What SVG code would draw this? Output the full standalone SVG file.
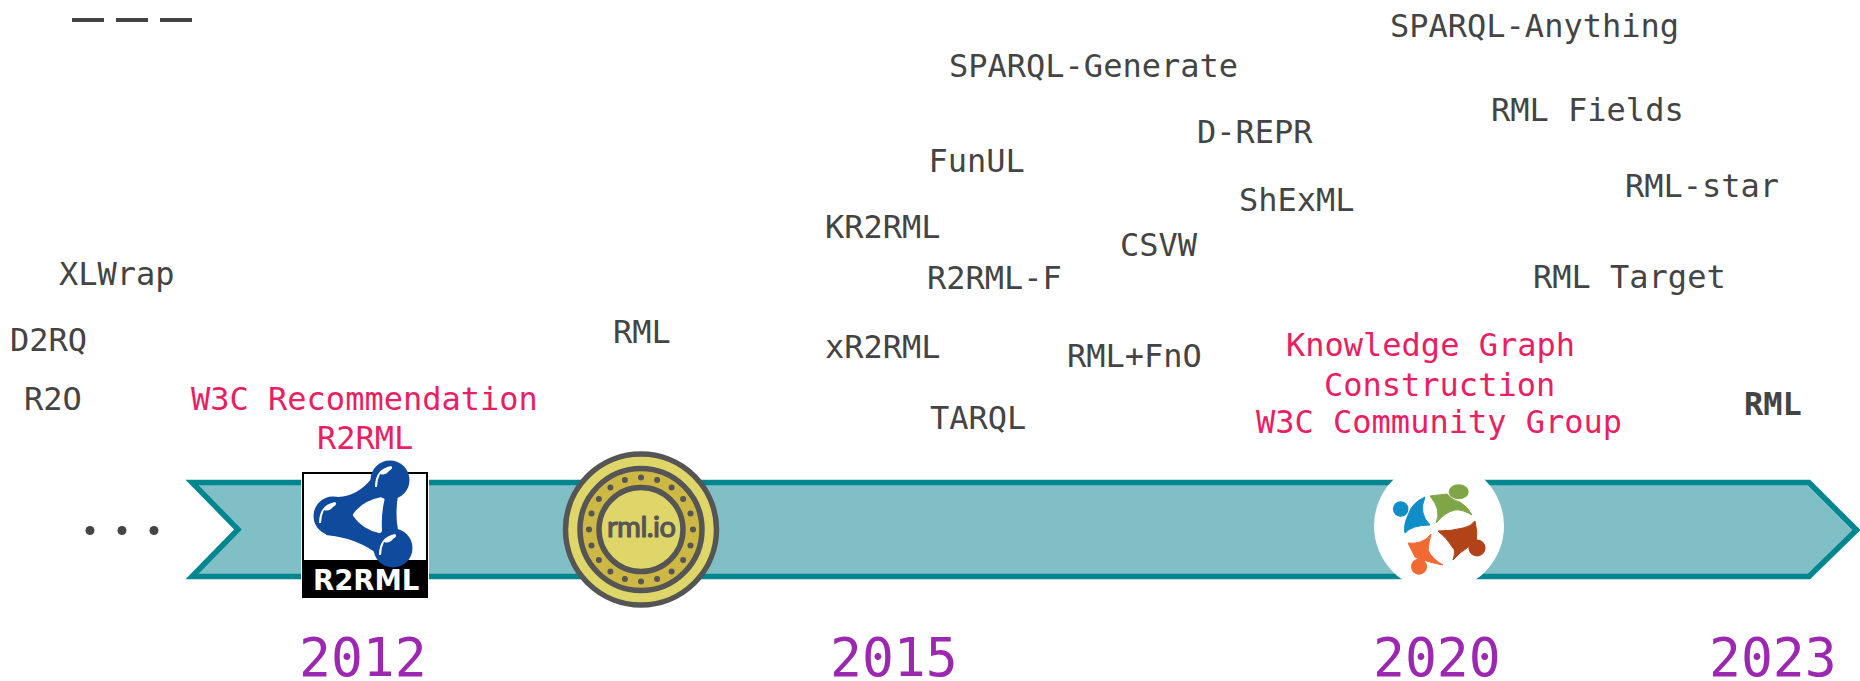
<svg xmlns="http://www.w3.org/2000/svg" width="1860" height="681" viewBox="0 0 1860 681">
<style>
text{font-family:"DejaVu Sans Mono","Liberation Mono",monospace;font-size:32px;fill:#444}
.pink{fill:#e91e63}
.year{fill:#9c27b0;font-size:53px}
.dash{fill:#444}
.gr{fill:#555}
.blue{fill:#0f4a9c}
.hl{fill:#fff}
</style>
<g id="dashes"><rect class="dash" x="72" y="18" width="32" height="4"/><rect class="dash" x="116" y="18" width="32" height="4"/><rect class="dash" x="160" y="18" width="32" height="4"/></g>
<g id="timeline"><path d="M192 482.500H1809L1856.500 530 1809 576.500H192L238 529.500Z" fill="#81bfc6" stroke="#00868f" stroke-width="5.500"/></g>
<g id="ellipsis"><circle class="dash" cx="90" cy="530.500" r="4.500"/><circle class="dash" cx="122" cy="530.500" r="4.500"/><circle class="dash" cx="154" cy="530.500" r="4.500"/></g>
<g id="r2rml-logo">
<rect x="301" y="470" width="128" height="130" fill="#fff"/>
<rect x="303" y="473" width="124" height="124" fill="#fff" stroke="#000" stroke-width="2"/>
<rect x="302" y="560" width="126" height="38" fill="#000"/>
<path class="blue" d="M338 497Q358 496 372 478L398 495Q395 515 398 530L380 556Q358 538 326 535Z"/>
<path class="hl" stroke="#fff" stroke-width="5" stroke-linejoin="round" d="M355.500 515Q364 503 382 499.500Q378.500 515 379.500 530.500Q364 527 355.500 515Z"/>
<circle class="blue" cx="390" cy="480" r="19.500"/><circle class="blue" cx="333" cy="516" r="19.500"/><circle class="blue" cx="393" cy="548" r="19.500"/>
<path class="hl" d="M375 487Q375 469 391 466Q394 468 389 471Q385 476 380 474Q377 480 377 487Z"/><path class="hl" d="M319 523Q319 505 335 502Q338 504 333 507Q329 512 324 510Q321 516 321 523Z"/><path class="hl" d="M379 555Q379 537 395 534Q398 536 393 539Q389 544 384 542Q381 548 381 555Z"/>
<text x="313" y="590" style="font-family:'DejaVu Sans',sans-serif;font-weight:700;font-size:27.500px;fill:#fff">R2RML</text>
</g>
<g id="rmlio-logo">
<circle cx="641" cy="529.500" r="75.500" fill="#dfd66a" stroke="#555" stroke-width="5.500"/>
<circle cx="641" cy="529.500" r="61" fill="#cdb745" stroke="#555" stroke-width="5.500"/>
<circle cx="641" cy="529.500" r="42" fill="#dfd66a" stroke="#555" stroke-width="5.500"/>
<g class="gr"><circle cx="693" cy="529.500" r="3"/><circle cx="690.500" cy="545.600" r="3"/><circle cx="683.100" cy="560.100" r="3"/><circle cx="671.600" cy="571.600" r="3"/><circle cx="657.100" cy="579" r="3"/><circle cx="641" cy="581.500" r="3"/><circle cx="624.900" cy="579" r="3"/><circle cx="610.400" cy="571.600" r="3"/><circle cx="598.900" cy="560.100" r="3"/><circle cx="591.500" cy="545.600" r="3"/><circle cx="589" cy="529.500" r="3"/><circle cx="591.500" cy="513.400" r="3"/><circle cx="598.900" cy="498.900" r="3"/><circle cx="610.400" cy="487.400" r="3"/><circle cx="624.900" cy="480" r="3"/><circle cx="641" cy="477.500" r="3"/><circle cx="657.100" cy="480" r="3"/><circle cx="671.600" cy="487.400" r="3"/><circle cx="683.100" cy="498.900" r="3"/><circle cx="690.500" cy="513.400" r="3"/></g>
<text x="607" y="537" textLength="69" lengthAdjust="spacing" style="font-family:Lato,sans-serif;font-weight:400;font-size:29px;fill:#555;stroke:#555;stroke-width:1.200px;stroke-linejoin:round">rml.io</text>
</g>
<g id="kgc-logo">
<circle cx="1439" cy="526" r="65" fill="#fff"/>
<circle cx="1400.700" cy="509" r="7.800" fill="#0f8ec7"/>
<path d="M1425 497Q1412 503 1409 513Q1403 525 1405 533Q1412 525 1430 525Q1418 513 1425 497Z" fill="#0f8ec7" stroke="#0f8ec7" stroke-linejoin="round"/>
<ellipse cx="1458.700" cy="491.700" rx="10" ry="7.500" fill="#7fa646"/>
<path d="M1430 496L1447 494Q1453 501 1460 502Q1468 507 1472 515Q1462 509 1455 510Q1445 512 1436 523Q1442 510 1430 496Z" fill="#7fa646" stroke="#7fa646" stroke-linejoin="round"/>
<circle cx="1477" cy="548" r="8.500" fill="#b14318"/>
<path d="M1475 521Q1478 533 1476 543Q1470 544 1467 548Q1460 552 1453 560Q1456 550 1453 548Q1447 538 1438 531Q1452 531 1463 528Q1470 527 1475 521Z" fill="#b14318" stroke="#b14318" stroke-linejoin="round"/>
<circle cx="1419" cy="566.700" r="8" fill="#f26a33"/>
<path d="M1431 534Q1429 541 1428 550Q1432 559 1443 565Q1432 563 1423 560Q1418 559 1415 557Q1411 549 1408 543Q1414 544 1420 542Q1427 540 1431 534Z" fill="#f26a33" stroke="#f26a33" stroke-linejoin="round"/>
</g>
<g id="labels">
<text x="1390" y="37">SPARQL-Anything</text>
<text x="949" y="77">SPARQL-Generate</text>
<text x="1491" y="121">RML Fields</text>
<text x="1197" y="143">D-REPR</text>
<text x="928.500" y="172">FunUL</text>
<text x="1625" y="197">RML-star</text>
<text x="1239" y="210.500">ShExML</text>
<text x="825" y="238">KR2RML</text>
<text x="1120" y="256">CSVW</text>
<text x="927" y="289">R2RML-F</text>
<text x="1533" y="288">RML Target</text>
<text x="59" y="285">XLWrap</text>
<text x="10" y="351">D2RQ</text>
<text x="613" y="343">RML</text>
<text x="825" y="358">xR2RML</text>
<text x="1067" y="367">RML+FnO</text>
<text x="24" y="410">R2O</text>
<text x="930" y="429">TARQL</text>
<text x="1744" y="415" font-weight="700">RML</text>
<text class="pink" x="191" y="410">W3C Recommendation</text>
<text class="pink" x="317" y="449">R2RML</text>
<text class="pink" x="1286" y="356">Knowledge Graph</text>
<text class="pink" x="1324" y="396">Construction</text>
<text class="pink" x="1256" y="433">W3C Community Group</text>
<text class="year" x="299" y="676">2012</text>
<text class="year" x="830" y="676">2015</text>
<text class="year" x="1373" y="676">2020</text>
<text class="year" x="1709" y="676">2023</text>
</g>
</svg>
